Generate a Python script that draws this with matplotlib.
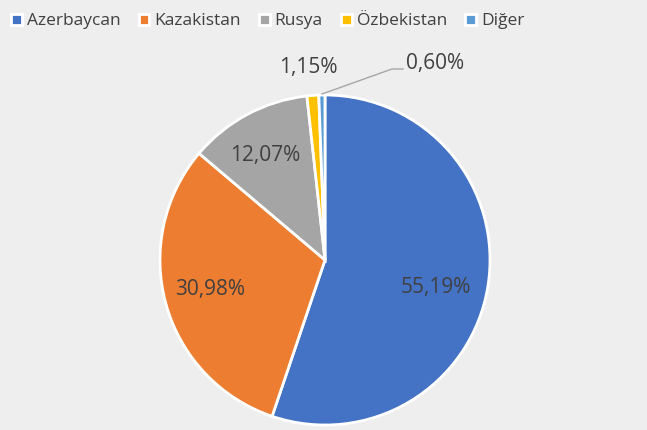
import numpy as np
import matplotlib.pyplot as plt
from matplotlib.patches import Patch

# data
countries = ['Azerbaycan', 'Kazakistan', 'Rusya', 'Özbekistan', 'Diğer']
shares = [55.19, 30.98, 12.07, 1.15, 0.60]
colors = ['#4472C4', '#ED7D31', '#A5A5A5', '#FFC000', '#5B9BD5']

plt.rcParams['font.family'] = ['Open Sans', 'DejaVu Sans']

fig = plt.figure(figsize=(6.47, 4.30), dpi=100)
fig.patch.set_facecolor('#EEEEEE')
ax = fig.add_axes([0, 0, 1, 1])

H = 430
center = (325, H - 260)
radius = 165

wedges, texts, autotexts = ax.pie(
    shares, colors=colors, startangle=90, counterclock=False,
    center=center, radius=radius, frame=True,
    autopct='%.2f%%', pctdistance=0.73,
    wedgeprops=dict(edgecolor='white', linewidth=2),
    textprops=dict(color='#404040', fontsize=15))
ax.set_xlim(0, 647)
ax.set_ylim(0, H)
ax.set_aspect('equal')
ax.axis('off')

# label spots as in the reference (pixels from top-left)
label_pos = [(436, 288), (210, 290), (265, 155), (308, 68), (435, 63)]
for t, s, (x, y) in zip(autotexts, shares, label_pos):
    t.set_text(f'{s:.2f}%'.replace('.', ','))
    t.set_position((x, H - y))

# leader line for the smallest slice
w = wedges[4]
mid = np.deg2rad((w.theta1 + w.theta2) / 2)
x0 = center[0] + radius * np.cos(mid)
y0 = center[1] + radius * np.sin(mid)
ax.plot([x0, 392, 403], [y0 + 1, H - 69, H - 69], color='#A6A6A6', lw=1)

handles = [Patch(facecolor=c, edgecolor='white', linewidth=2) for c in colors]
fig.legend(handles, countries, loc='upper left', bbox_to_anchor=(0.0, 0.995),
           ncol=5, frameon=False, fontsize=12.5, labelcolor='#404040',
           handlelength=0.6, handleheight=0.6, handletextpad=0.3,
           columnspacing=1.05, borderaxespad=0.25)

fig.savefig('out.png', dpi=100, facecolor=fig.get_facecolor())
